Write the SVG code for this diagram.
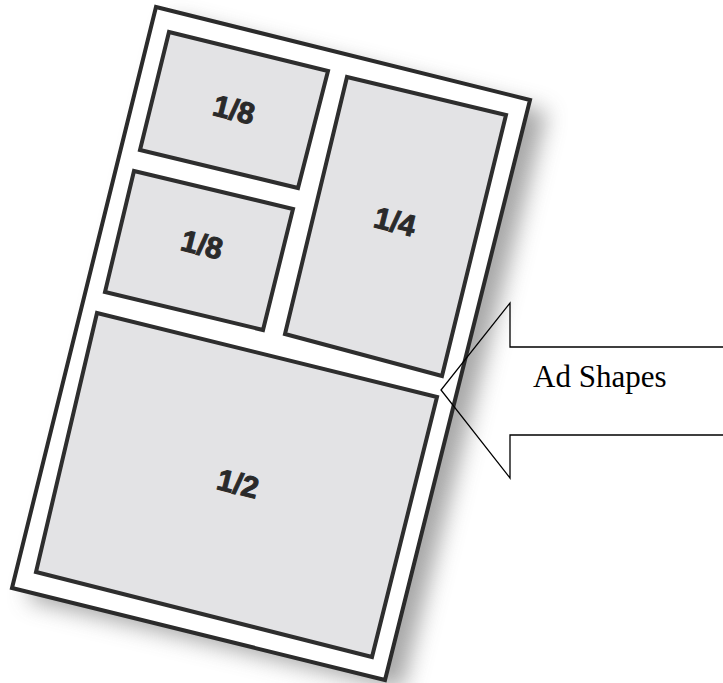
<svg xmlns="http://www.w3.org/2000/svg" width="723" height="683" viewBox="0 0 723 683">
<style>
.page{fill:#ffffff;stroke:#2b2b2b;stroke-width:4;stroke-linejoin:miter}
.box{fill:#e3e3e5;stroke:#2e2e2e;stroke-width:4;stroke-linejoin:miter}
.lbl{font-family:"Liberation Sans",Arial,sans-serif;font-weight:bold;font-size:30px;fill:#2a2a2a;stroke:#2a2a2a;stroke-width:1;text-anchor:middle}
.callout{fill:none;stroke:#000;stroke-width:1.3;stroke-linejoin:miter}
.ctext{font-family:"Liberation Serif","Times New Roman",serif;font-size:31px;fill:#000}
</style>
<defs>
<filter id="blur" x="-20%" y="-20%" width="140%" height="140%">
<feGaussianBlur stdDeviation="11"/>
</filter>
</defs>
<rect width="723" height="683" fill="#ffffff"/>
<g id="page">
<polygon points="172,19 547,112 402,690 28,600" fill="#8a8a8a" opacity="0.75" filter="url(#blur)"/>
<polygon class="page" points="156,7 530,100 385,680 12,588"/>
</g>
<g id="box-eighth-top">
<polygon class="box" points="169,32 328,71 298,188 140,150"/>
<text class="lbl" transform="translate(234,110) rotate(14)" x="0" y="10">1/8</text>
</g>
<g id="box-eighth-bottom">
<polygon class="box" points="134,171 293,209 263,330 105,292"/>
<text class="lbl" transform="translate(202,245) rotate(14)" x="0" y="10">1/8</text>
</g>
<g id="box-quarter">
<polygon class="box" points="347,77 506,115 442,376 285,334"/>
<text class="lbl" transform="translate(395,222) rotate(14)" x="0" y="10">1/4</text>
</g>
<g id="box-half">
<polygon class="box" points="97,313 437,397 372,657 36,572"/>
<text class="lbl" transform="translate(238,484) rotate(14)" x="0" y="10">1/2</text>
</g>
<g id="connectors">
<g id="callout">
<polyline class="callout" points="724,347 510,347 510,303 441,390 510,478 510,435 724,435"/>
<text class="ctext" x="533" y="387">Ad Shapes</text>
</g>
</g>
</svg>
